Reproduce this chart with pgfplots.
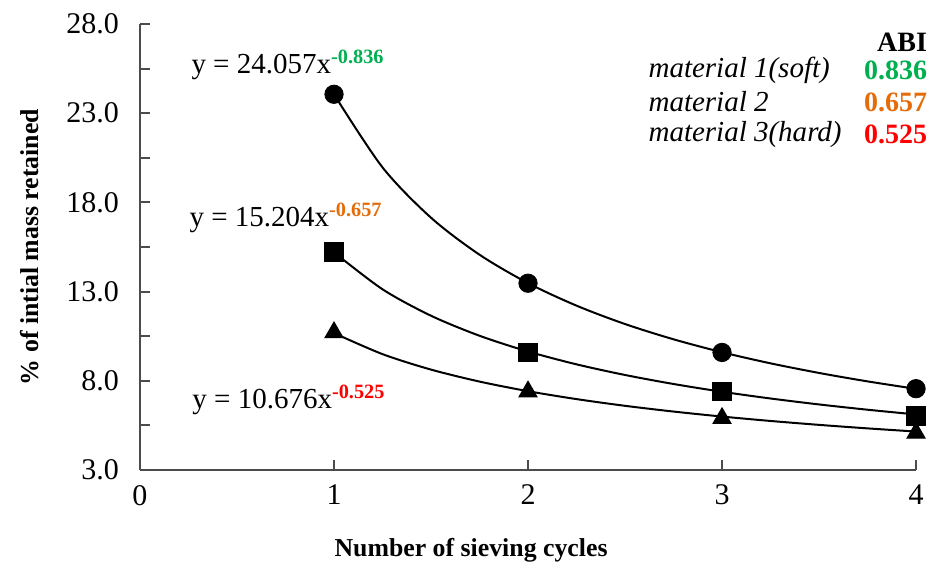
\documentclass[border=0pt]{standalone}
\usepackage{fontspec}
\setmainfont{Liberation Serif}
\usepackage{pgfplots}
\pgfplotsset{compat=1.18}
\definecolor{mgreen}{RGB}{0,176,80}
\definecolor{morange}{RGB}{228,108,10}
\definecolor{mred}{RGB}{255,0,0}
\begin{document}
\begin{tikzpicture}
\begin{axis}[
  scale only axis, width=388pt, height=223pt,
  xmin=0, xmax=4, ymin=3, ymax=28,
  axis x line*=bottom, axis y line*=left,
  axis line style={black!70, line width=1pt},
  tick align=inside, tick style={black!70, line width=1pt},
  major tick length=5pt, minor tick length=5pt,
  xtick={0,1,2,3,4}, ytick={3,8,13,18,23,28},
  minor ytick={5.5,10.5,15.5,20.5,25.5},
  yticklabel style={xshift=-7pt, /pgf/number format/fixed, /pgf/number format/fixed zerofill, /pgf/number format/precision=1},
  /pgf/number format/assume math mode=true,
  tick label style={font=\fontsize{15}{17}\selectfont},
  xticklabel style={yshift=-4pt},
  xlabel={\textbf{Number of sieving cycles}},
  ylabel={\textbf{\% of intial mass retained}},
  xlabel style={font=\fontsize{12.9}{15}\selectfont, at={(axis description cs:0.4266,-0.179)}, anchor=center},
  ylabel style={font=\fontsize{12.9}{15}\selectfont, at={(axis description cs:-0.1418,0.5)}, anchor=center},
  clip=false,
]
\path[draw=none] (axis description cs:-0.1804,-0.2265) rectangle (axis description cs:1.0296,1.0538);
% trendlines (precomputed points of the fitted power curves)
\addplot[black, line width=1pt, smooth] coordinates {(1,24.057)(1.25,19.963)(1.5,17.142)(1.75,15.069)(2,13.476)(2.25,12.213)(2.5,11.183)(2.75,10.327)(3,9.602)(3.25,8.980)(3.5,8.441)(3.75,7.968)(4,7.549)};
\addplot[black, line width=1pt, smooth] coordinates {(1,15.204)(1.25,13.131)(1.5,11.648)(1.75,10.526)(2,9.643)(2.25,8.924)(2.5,8.327)(2.75,7.822)(3,7.387)(3.25,7.009)(3.5,6.676)(3.75,6.380)(4,6.115)};
\addplot[black, line width=1pt, smooth] coordinates {(1,10.676)(1.25,9.496)(1.5,8.629)(1.75,7.958)(2,7.419)(2.25,6.975)(2.5,6.599)(2.75,6.277)(3,5.997)(3.25,5.750)(3.5,5.531)(3.75,5.334)(4,5.156)};
% data points
\addplot[only marks, mark=*, mark size=4.6pt, black] coordinates {(1,24.06)(2,13.47)(3,9.59)(4,7.56)};
\addplot[only marks, mark=square*, mark size=4.6pt, black] coordinates {(1,15.22)(2,9.59)(3,7.39)(4,6.04)};
\addplot[only marks, mark=triangle*, mark size=5.3pt, black] coordinates {(1,10.71)(2,7.39)(3,5.90)(4,5.08)};
% equations
\node[font=\fontsize{14.5}{16}\selectfont] at (axis cs:0.763,25.70) {y = 24.057x\textsuperscript{\textcolor{mgreen}{\textbf{-0.836}}}};
\node[font=\fontsize{14.5}{16}\selectfont] at (axis cs:0.753,17.13) {y = 15.204x\textsuperscript{\textcolor{morange}{\textbf{-0.657}}}};
\node[font=\fontsize{14.5}{16}\selectfont] at (axis cs:0.768,6.92) {y = 10.676x\textsuperscript{\textcolor{mred}{\textbf{-0.525}}}};
% ABI table
\node[anchor=east, font=\fontsize{14}{16}\selectfont\bfseries] at (axis cs:4.093,26.99) {ABI};
\node[anchor=west, font=\fontsize{14.5}{16}\selectfont\itshape] at (axis cs:2.585,25.42) {material 1(soft)};
\node[anchor=west, font=\fontsize{14.5}{16}\selectfont\itshape] at (axis cs:2.585,23.63) {material 2};
\node[anchor=west, font=\fontsize{14.5}{16}\selectfont\itshape] at (axis cs:2.585,21.83) {material 3(hard)};
\node[anchor=east, font=\fontsize{14}{16}\selectfont\bfseries, text=mgreen] at (axis cs:4.093,25.42) {0.836};
\node[anchor=east, font=\fontsize{14}{16}\selectfont\bfseries, text=morange] at (axis cs:4.093,23.63) {0.657};
\node[anchor=east, font=\fontsize{14}{16}\selectfont\bfseries, text=mred] at (axis cs:4.093,21.83) {0.525};
\end{axis}
\end{tikzpicture}
\end{document}
